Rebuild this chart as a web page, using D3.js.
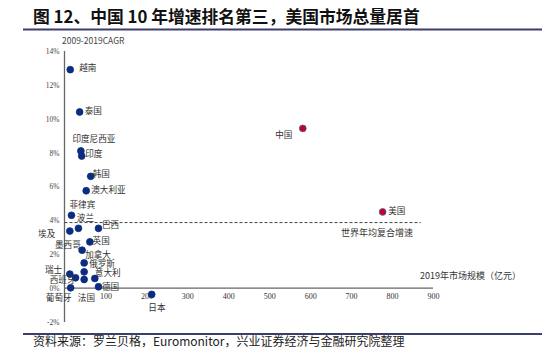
<!DOCTYPE html>
<html><head><meta charset="utf-8">
<script src="https://cdn.jsdelivr.net/npm/d3@7"></script>
<style>
body{margin:0;background:#fff;}
svg{display:block;}
</style></head><body>
<svg id="c" width="542" height="360"></svg>
<script>
// ---- data ----
const countries = ["越南","泰国","印度尼西亚","印度","韩国","澳大利亚","菲律宾","波兰","埃及","巴西","英国","墨西哥","加拿大","俄罗斯","瑞士","西班牙","法国","意大利","德国","葡萄牙","日本","中国","美国"];
const marketSize = [14,37,40,42,64,53,17,34,13,83,62,43,48,48,13,27,48,74,83,15,213,582,777];
const cagr = [12.9,10.4,8.1,7.8,6.6,5.75,4.3,3.53,3.37,3.53,2.73,2.24,1.49,0.96,0.83,0.61,0.51,0.57,0.08,0.02,-0.37,9.43,4.5];
const highlighted = ["中国","美国"];
const worldCagr = [3.87];
const worldLineEnd = [870];
const xTicks = [100,200,300,400,500,600,700,800,900];
const yTicks = [-2,0,2,4,6,8,10,12,14];

// ---- label layout (offsets from point, px) ----
const labelPos = {
  "越南":[9,-2,"start"],"泰国":[5,-1,"start"],"印度尼西亚":[-8.5,-11.5,"start"],"印度":[3.5,-2,"start"],
  "韩国":[2,-2,"start"],"澳大利亚":[5,-1,"start"],"菲律宾":[-2,-10.5,"start"],"波兰":[-1.6,-10,"start"],
  "埃及":[-14.5,3,"end"],"巴西":[3.4,-3,"start"],"英国":[2.7,-1,"start"],"墨西哥":[-1.3,-5,"end"],
  "加拿大":[1,-7.6,"start"],"俄罗斯":[5,-7.5,"start"],"瑞士":[-7.7,-4.3,"end"],"西班牙":[0,1.8,"end"],
  "法国":[-6.3,19,"start"],"意大利":[0,-5.2,"start"],"德国":[3.4,0,"start"],"葡萄牙":[1,10,"end"],
  "日本":[-3.4,14,"start"],"中国":[-10.4,6.7,"end"],"美国":[5.6,-1,"start"]
};

const svg = d3.select("#c");
const W = 542, H = 360;
const x = d3.scaleLinear().domain([0,900]).range([64.5,433]);
const y = d3.scaleLinear().domain([-2,14]).range([322,51]);
const cjk = "'Noto Sans CJK SC','Noto Sans',sans-serif";
const serif = "'Liberation Serif','DejaVu Serif',serif";

// title
svg.append("text").attr("x",33).attr("y",23).attr("font-family",cjk).attr("font-weight","bold")
  .attr("font-size",16.8).attr("fill","#111").text("图 12、中国 10 年增速排名第三，美国市场总量居首");
svg.append("line").attr("x1",23).attr("x2",W).attr("y1",29.5).attr("y2",29.5).attr("stroke","#3c3f6e").attr("stroke-width",2);

// axes
const gx = svg.append("g").attr("transform",`translate(0,${y(0)})`)
  .call(d3.axisBottom(x).tickValues(xTicks).tickSize(0).tickPadding(5).tickFormat(d3.format("d")));
gx.select(".domain").attr("stroke","#666").attr("stroke-width",1.3).attr("d",`M${x(0)},0H${x(900)}`);
gx.selectAll("text").attr("font-family",serif).attr("font-size",8).attr("fill","#333");

const gy = svg.append("g").attr("transform",`translate(${x(0)},0)`)
  .call(d3.axisLeft(y).tickValues(yTicks).tickSize(0).tickPadding(5).tickFormat(d=>d+"%"));
gy.select(".domain").attr("stroke","#666").attr("stroke-width",1.3).attr("d",`M0,${y(-2)}V${y(14)}`);
gy.selectAll("text").attr("font-family",serif).attr("font-size",7.5).attr("fill","#444");

svg.append("text").attr("x",62).attr("y",44).attr("font-family",cjk).attr("font-size",8.5).attr("fill","#444").text("2009-2019CAGR");
svg.append("text").attr("x",420).attr("y",279).attr("font-family",cjk).attr("font-size",9).attr("fill","#333").text("2019年市场规模（亿元）");

// world average line
svg.append("line").attr("x1",x(0)).attr("x2",x(worldLineEnd[0])).attr("y1",y(worldCagr[0])).attr("y2",y(worldCagr[0]))
  .attr("stroke","#444").attr("stroke-width",1).attr("stroke-dasharray","3,2");
svg.append("text").attr("x",341).attr("y",236).attr("font-family",cjk).attr("font-size",9).attr("fill","#333").text("世界年均复合增速");

// points
const data = countries.map((c,i)=>({name:c,size:marketSize[i],g:cagr[i]}));
svg.append("g").selectAll("circle").data(data).join("circle")
  .attr("cx",d=>x(d.size)).attr("cy",d=>y(d.g)).attr("r",3.4)
  .attr("fill",d=>highlighted.includes(d.name)?"#c8001e":"#0b2c80")
  .attr("stroke",d=>highlighted.includes(d.name)?"#4a5cc0":"#0b2c80").attr("stroke-width",0.8);

svg.append("g").selectAll("text").data(data).join("text")
  .attr("x",d=>x(d.size)+labelPos[d.name][0]).attr("y",d=>y(d.g)+labelPos[d.name][1])
  .attr("dy","0.35em").attr("text-anchor",d=>labelPos[d.name][2])
  .attr("font-family",cjk).attr("font-size",8.6).attr("fill","#333").text(d=>d.name);

// footer
svg.append("line").attr("x1",23).attr("x2",W).attr("y1",334).attr("y2",334).attr("stroke","#3c3f6e").attr("stroke-width",2);
svg.append("text").attr("x",33).attr("y",346).attr("font-family",cjk).attr("font-size",12).attr("fill","#222")
  .text("资料来源：罗兰贝格，Euromonitor，兴业证券经济与金融研究院整理");
</script></body></html>
